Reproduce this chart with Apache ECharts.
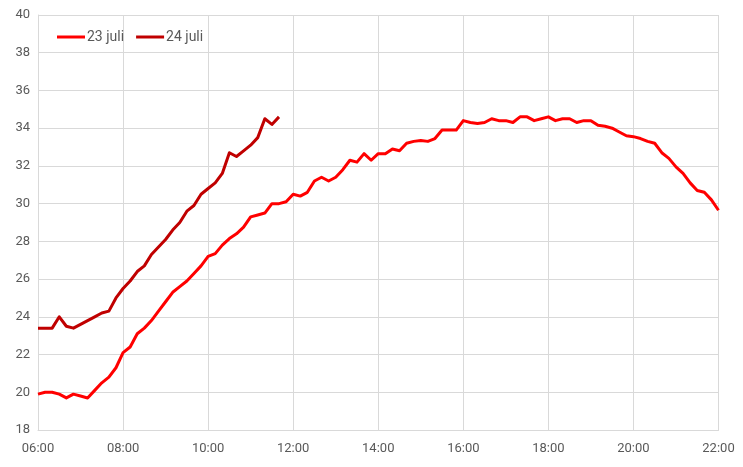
<!DOCTYPE html>
<html>
<head>
<meta charset="utf-8">
<script src="https://cdn.jsdelivr.net/npm/echarts@6/dist/echarts.min.js"></script>
<style>html,body{margin:0;padding:0;background:#fff}#c{width:743px;height:467px}</style>
</head>
<body>
<div id="c"></div>
<script>
// Time categories every 10 minutes from 06:00 to 22:00
var categories = [];
for (var h = 6; h <= 22; h++) {
  for (var m = 0; m < 60; m += 10) {
    if (h === 22 && m > 0) break;
    categories.push((h < 10 ? '0' : '') + h + ':' + (m === 0 ? '00' : m));
  }
}
var seriesNames = ['23 juli', '24 juli'];
var juli23 = [
  19.9, 20.0, 20.0, 19.9, 19.7, 19.9, 19.8, 19.7, 20.1, 20.5, 20.8, 21.3,
  22.1, 22.4, 23.1, 23.4, 23.8, 24.3, 24.8, 25.3, 25.6, 25.9, 26.3, 26.7,
  27.2, 27.35, 27.8, 28.15, 28.4, 28.75, 29.3, 29.4, 29.5, 30.0, 30.0, 30.1,
  30.5, 30.4, 30.6, 31.2, 31.4, 31.2, 31.4, 31.8, 32.3, 32.2, 32.65, 32.3,
  32.65, 32.65, 32.9, 32.8, 33.2, 33.3, 33.35, 33.3, 33.45, 33.9, 33.9, 33.9,
  34.4, 34.3, 34.25, 34.3, 34.5, 34.4, 34.4, 34.3, 34.6, 34.6, 34.4, 34.5,
  34.6, 34.4, 34.5, 34.5, 34.3, 34.4, 34.4, 34.15, 34.1, 34.0, 33.8, 33.6,
  33.55, 33.45, 33.3, 33.2, 32.7, 32.4, 31.95, 31.6, 31.1, 30.7, 30.6, 30.2,
  29.65
];
var juli24 = [
  23.4, 23.4, 23.4, 24.0, 23.5, 23.4, 23.6, 23.8, 24.0, 24.2, 24.3, 25.0,
  25.5, 25.9, 26.4, 26.7, 27.3, 27.7, 28.1, 28.6, 29.0, 29.6, 29.9, 30.5,
  30.8, 31.1, 31.6, 32.7, 32.5, 32.8, 33.1, 33.5, 34.5, 34.2, 34.6
];
var yTicks = { min: 18, max: 40, interval: 2 };

var chart = echarts.init(document.getElementById('c'), null, { renderer: 'canvas' });
chart.setOption({
  animation: false,
  backgroundColor: '#ffffff',
  textStyle: { fontFamily: 'Roboto, sans-serif' },
  grid: { left: 38, right: 24.5, top: 15, bottom: 37, containLabel: false },
  legend: {
    data: seriesNames,
    icon: 'rect',
    left: 52,
    top: 25,
    itemWidth: 28,
    itemHeight: 3,
    itemGap: 12,
    textStyle: { color: '#595959', fontSize: 14, fontFamily: 'Roboto, sans-serif', padding: [0, 0, 0, -3] }
  },
  xAxis: {
    type: 'category',
    data: categories,
    boundaryGap: false,
    axisLine: { show: true, lineStyle: { color: '#d9d9d9', width: 1 } },
    axisTick: { show: false },
    axisLabel: { interval: 11, color: '#595959', fontSize: 13, margin: 12 },
    splitLine: { show: true, interval: 11, lineStyle: { color: '#d9d9d9', width: 1 } }
  },
  yAxis: {
    type: 'value',
    min: yTicks.min,
    max: yTicks.max,
    interval: yTicks.interval,
    axisLine: { show: true, lineStyle: { color: '#d9d9d9', width: 1 } },
    axisTick: { show: false },
    axisLabel: { color: '#595959', fontSize: 13, margin: 8 },
    splitLine: { show: true, lineStyle: { color: '#d9d9d9', width: 1 } }
  },
  series: [
    {
      name: seriesNames[0], type: 'line', data: juli23, symbol: 'none',
      lineStyle: { color: '#ff0000', width: 3, join: 'round' }, itemStyle: { color: '#ff0000' }
    },
    {
      name: seriesNames[1], type: 'line', data: juli24, symbol: 'none',
      lineStyle: { color: '#c00000', width: 3, join: 'round' }, itemStyle: { color: '#c00000' }
    }
  ]
});
</script>
</body>
</html>
